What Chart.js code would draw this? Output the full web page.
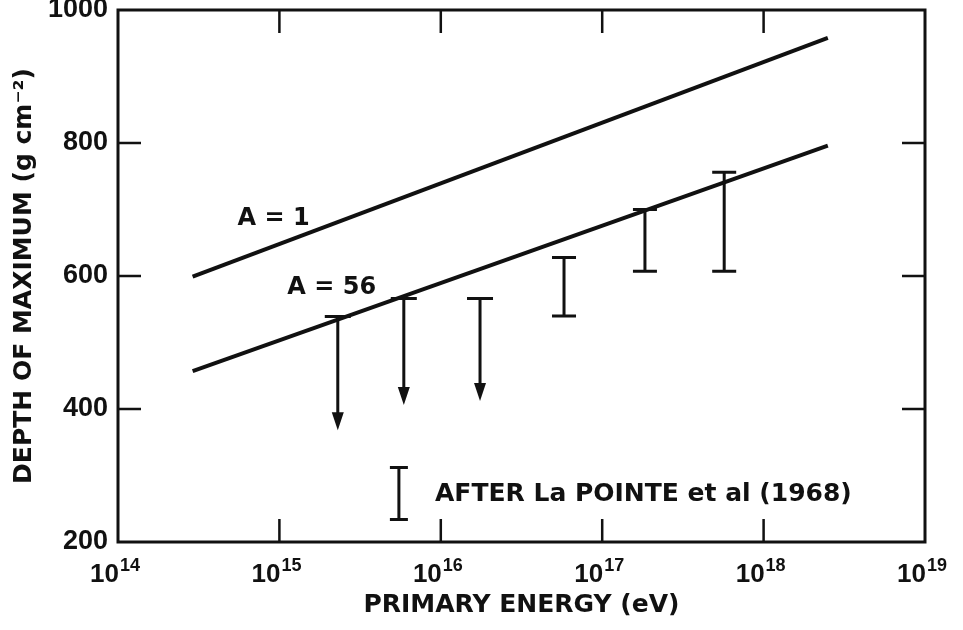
<!DOCTYPE html>
<html>
<head>
<meta charset="utf-8">
<script src="https://cdn.jsdelivr.net/npm/chart.js@4.4.1/dist/chart.umd.min.js"></script>
<style>
  html, body { margin: 0; padding: 0; background: #fff; }
</style>
</head>
<body>
<canvas id="myChart" width="963" height="630"></canvas>
<script>
// theory lines (endpoints), energy in eV, depth in g cm^-2
const lineEnergy = [2.9e14, 2.5e18];
const depthA1 = [599, 958];
const depthA56 = [457, 796];

// upper limits, drawn as arrows
const limEnergy = [2.3e15, 5.9e15, 1.75e16];
const limTop = [539, 566, 566];
const limTip = [368, 406, 412];

// La Pointe et al error bars
const barEnergy = [5.8e16, 1.84e17, 5.7e17];
const barHigh = [628, 700, 756];
const barLow = [540, 607, 607];

// key
const keyEnergy = 5.5e15;
const keyHigh = 312;
const keyLow = 234;
const keyLabel = 'AFTER La POINTE et al (1968)';
const keyLabelAt = [9.2e15, 262];

// curve labels
const curveLabels = ['A = 1', 'A = 56'];
const curveLabelAt = [[5.5e14, 677], [1.12e15, 573]];

const xExponents = [14, 15, 16, 17, 18, 19];
const yTicks = [200, 400, 600, 800, 1000];

const INK = '#111';
const NUM_FONT = '"Liberation Sans", Arial, sans-serif';
const TXT_FONT = '"DejaVu Sans", sans-serif';

function pts(xs, ys) {
  return xs.map((x, i) => ({ x: x, y: ys[i] }));
}

// frame, inward ticks, x labels, error bars, text
const extras = {
  id: 'extras',
  afterDatasetsDraw(chart) {
    const ctx = chart.ctx;
    const a = chart.chartArea;
    const xs = chart.scales.x, ys = chart.scales.y;
    const tick = 23;
    ctx.save();
    ctx.strokeStyle = INK;
    ctx.fillStyle = INK;
    ctx.lineCap = 'butt';

    // frame
    ctx.lineWidth = 3;
    ctx.strokeRect(a.left, a.top, a.right - a.left, a.bottom - a.top);

    // inward ticks
    ctx.lineWidth = 2.5;
    ctx.beginPath();
    xExponents.slice(1, -1).forEach(e => {
      const px = xs.getPixelForValue(Math.pow(10, e));
      ctx.moveTo(px, a.bottom); ctx.lineTo(px, a.bottom - tick);
      ctx.moveTo(px, a.top); ctx.lineTo(px, a.top + tick);
    });
    yTicks.slice(1, -1).forEach(v => {
      const py = ys.getPixelForValue(v);
      ctx.moveTo(a.left, py); ctx.lineTo(a.left + tick, py);
      ctx.moveTo(a.right, py); ctx.lineTo(a.right - tick, py);
    });
    ctx.stroke();

    // x tick labels 10^n
    ctx.textBaseline = 'alphabetic';
    xExponents.forEach(e => {
      const px = xs.getPixelForValue(Math.pow(10, e));
      ctx.font = 'bold 26px ' + NUM_FONT;
      ctx.textAlign = 'right';
      ctx.fillText('10', px + 1, 582);
      ctx.font = 'bold 18px ' + NUM_FONT;
      ctx.textAlign = 'left';
      ctx.fillText(String(e), px + 2, 571);
    });

    // error bar helper
    function bar(x, hi, lo, cap) {
      const px = xs.getPixelForValue(x);
      const y1 = ys.getPixelForValue(hi), y2 = ys.getPixelForValue(lo);
      ctx.lineWidth = 3;
      ctx.beginPath();
      ctx.moveTo(px, y1); ctx.lineTo(px, y2);
      ctx.moveTo(px - cap / 2, y1); ctx.lineTo(px + cap / 2, y1);
      ctx.moveTo(px - cap / 2, y2); ctx.lineTo(px + cap / 2, y2);
      ctx.stroke();
    }

    // upper limits
    limEnergy.forEach((x, i) => {
      const px = xs.getPixelForValue(x);
      const y1 = ys.getPixelForValue(limTop[i]);
      const y2 = ys.getPixelForValue(limTip[i]);
      const head = 18, hw = 6;
      ctx.lineWidth = 3;
      ctx.beginPath();
      ctx.moveTo(px - 13, y1); ctx.lineTo(px + 13, y1);
      ctx.moveTo(px, y1); ctx.lineTo(px, y2 - head + 2);
      ctx.stroke();
      ctx.beginPath();
      ctx.moveTo(px - hw, y2 - head);
      ctx.lineTo(px + hw, y2 - head);
      ctx.lineTo(px, y2);
      ctx.closePath();
      ctx.fill();
    });

    barEnergy.forEach((x, i) => bar(x, barHigh[i], barLow[i], 24));
    bar(keyEnergy, keyHigh, keyLow, 18);

    // text
    ctx.font = 'bold 25px ' + TXT_FONT;
    ctx.textAlign = 'left';
    ctx.fillText(keyLabel, xs.getPixelForValue(keyLabelAt[0]), ys.getPixelForValue(keyLabelAt[1]));
    ctx.font = 'bold 24px ' + TXT_FONT;
    curveLabels.forEach((t, i) => {
      ctx.fillText(t, xs.getPixelForValue(curveLabelAt[i][0]), ys.getPixelForValue(curveLabelAt[i][1]));
    });
    ctx.restore();
  }
};

const data = {
  datasets: [
    {
      label: 'A = 1',
      data: pts(lineEnergy, depthA1),
      borderColor: INK,
      borderWidth: 4,
      pointRadius: 0
    },
    {
      label: 'A = 56',
      data: pts(lineEnergy, depthA56),
      borderColor: INK,
      borderWidth: 4,
      pointRadius: 0
    }
  ]
};

const config = {
  type: 'line',
  data,
  options: {
    responsive: false,
    animation: false,
    devicePixelRatio: 1,
    layout: { padding: { top: 10, right: 38, left: 0, bottom: 0 } },
    plugins: { legend: { display: false }, tooltip: { enabled: false } },
    scales: {
      x: {
        type: 'logarithmic',
        min: 1e14,
        max: 1e19,
        grid: { display: false },
        border: { display: false },
        ticks: { display: false },
        afterBuildTicks: s => { s.ticks = xExponents.map(e => ({ value: Math.pow(10, e) })); },
        afterFit: s => { s.height = 88; s.paddingLeft = 0; s.paddingRight = 0; },
        title: {
          display: true,
          text: 'PRIMARY ENERGY (eV)',
          color: INK,
          font: { family: TXT_FONT, size: 25, weight: 'bold' },
          padding: { top: 0, bottom: 10 }
        }
      },
      y: {
        type: 'linear',
        min: 200,
        max: 1000,
        grid: { display: false, drawTicks: false },
        border: { display: false },
        afterBuildTicks: s => { s.ticks = yTicks.map(v => ({ value: v })); },
        afterFit: s => { s.width = 118; s.paddingTop = 0; s.paddingBottom = 0; },
        ticks: {
          color: INK,
          padding: 10,
          font: { family: NUM_FONT, size: 27, weight: 'bold' },
          callback: v => String(v)
        },
        title: {
          display: true,
          text: 'DEPTH OF MAXIMUM (g cm⁻²)',
          color: INK,
          font: { family: TXT_FONT, size: 25, weight: 'bold' },
          padding: { top: 9, bottom: 0 }
        }
      }
    }
  },
  plugins: [extras]
};

const myChart = new Chart(document.getElementById('myChart'), config);
</script>
</body>
</html>
